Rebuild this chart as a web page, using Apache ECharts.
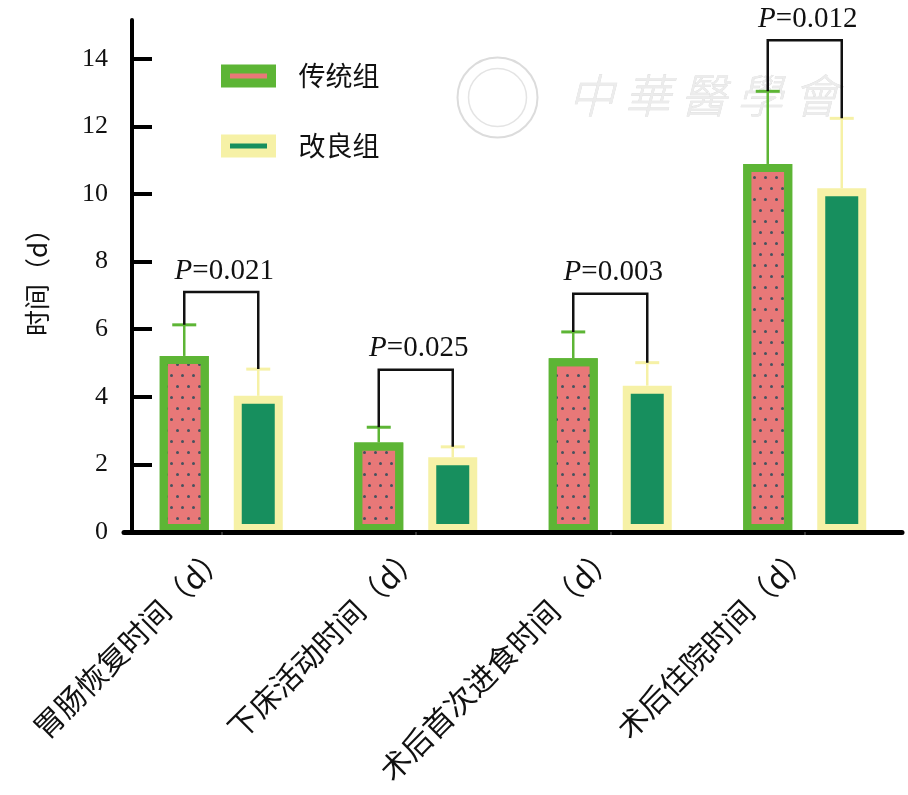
<!DOCTYPE html>
<html><head><meta charset="utf-8">
<script src="https://cdn.jsdelivr.net/npm/echarts@6/dist/echarts.min.js"></script>
<style>html,body{margin:0;padding:0;background:#fff}#c{width:908px;height:795px}</style>
</head><body><div id="c"></div>
<script>
const categories = ['胃肠恢复时间（d）','下床活动时间（d）','术后首次进食时间（d）','术后住院时间（d）'];
const seriesNames = ['传统组','改良组'];
const traditionalMean = [5.21, 2.65, 5.14, 10.89];
const traditionalSD   = [0.92, 0.45, 0.78, 2.15];
const improvedMean    = [4.03, 2.21, 4.33, 10.17];
const improvedSD      = [0.79, 0.31, 0.68, 2.07];
const bracketLevel    = [7.1, 4.8, 7.05, 14.55];
const pValues         = ['0.021','0.025','0.003','0.012'];
const yTicks          = [0, 2, 4, 6, 8, 10, 12, 14];

const GREEN = '#5db535', PINK = '#e87878', YELLOW = '#f6f1a6', DKGREEN = '#178f5e';
const BAR_W = 49, GAP = 25, BORDER = 8;
const OFF = (BAR_W + GAP) / 2;
const serif = 'Liberation Serif, Times New Roman, serif';
const cjk = 'Noto Sans CJK SC, sans-serif';

function errData(mean, sd){ return mean.map((m,i)=>[i, m, sd[i]]); }
function errSeries(name, mean, sd, color, sign){
  return {
    type:'custom', name: name + '_err', z: 5, silent: true,
    data: errData(mean, sd),
    renderItem(params, api){
      const i = api.value(0), m = api.value(1), s = api.value(2);
      const base = api.coord([i, m]);
      const top = api.coord([i, m + s]);
      const x = base[0] + sign * OFF;
      return { type:'group', children:[
        { type:'line', shape:{x1:x, y1:base[1], x2:x, y2:top[1]}, style:{stroke:color, lineWidth:2.5} },
        { type:'line', shape:{x1:x-12, y1:top[1], x2:x+12, y2:top[1]}, style:{stroke:color, lineWidth:3} }
      ]};
    }
  };
}

const bracketData = categories.map((c,i)=>[i, traditionalMean[i]+traditionalSD[i], improvedMean[i]+improvedSD[i], bracketLevel[i]]);

const chart = echarts.init(document.getElementById('c'));
chart.setOption({
  animation:false,
  backgroundColor:'#fff',
  grid:{left:124, right:6, top:20, bottom:263},
  legend:{
    orient:'vertical', left:216, top:56, itemGap:40,
    itemWidth:46, itemHeight:14,
    data:[
      {name:seriesNames[0], icon:'rect', itemStyle:{color:PINK, borderColor:GREEN, borderWidth:9, decal:'none'}},
      {name:seriesNames[1], icon:'rect', itemStyle:{color:DKGREEN, borderColor:YELLOW, borderWidth:9}}
    ],
    textStyle:{fontFamily:cjk, fontSize:27, color:'#111', lineHeight:30, padding:[0,0,0,22]}
  },
  xAxis:{
    type:'category', data:categories, z:10,
    axisLine:{lineStyle:{color:'#000', width:5}},
    axisTick:{show:true, alignWithLabel:true, length:3, lineStyle:{color:'#333', width:2}},
    axisLabel:{rotate:45, interval:0, fontFamily:cjk, fontSize:30, color:'#111', margin:18}
  },
  yAxis:{
    type:'value', min:0, max:15.15, offset:-8, z:10,
    name:'时间（d）', nameLocation:'middle', nameGap:82,
    nameTextStyle:{fontFamily:cjk, fontSize:26, color:'#111'},
    axisLine:{show:true, lineStyle:{color:'#000', width:4}},
    axisTick:{show:true, inside:true, length:20, customValues:yTicks, lineStyle:{color:'#000', width:4}},
    axisLabel:{customValues:yTicks, fontFamily:serif, fontSize:26, color:'#111', margin:24},
    splitLine:{show:false}
  },
  series:[
    {type:'bar', name:seriesNames[0], data:traditionalMean, barWidth:BAR_W, barGap:(GAP/BAR_W*100)+'%',
     itemStyle:{color:PINK, borderColor:GREEN, borderWidth:BORDER,
       decal:{symbol:'circle', symbolSize:1, dashArrayX:[[2.8,7.2],[0,5,2.8,2.2]], dashArrayY:[2.8,7.5], color:'#46525e', rotation:0}}},
    {type:'bar', name:seriesNames[1], data:improvedMean, barWidth:BAR_W,
     itemStyle:{color:DKGREEN, borderColor:YELLOW, borderWidth:BORDER}},
    errSeries(seriesNames[0], traditionalMean, traditionalSD, GREEN, -1),
    errSeries(seriesNames[1], improvedMean, improvedSD, YELLOW, 1),
    {
      type:'custom', name:'sig', z:6, silent:true, data:bracketData,
      renderItem(params, api){
        const i = api.value(0);
        const a = api.coord([i, api.value(1)]), b = api.coord([i, api.value(2)]), c = api.coord([i, api.value(3)]);
        const xl = a[0] - OFF, xr = a[0] + OFF;
        return { type:'group', children:[
          { type:'polyline', shape:{points:[[xl,a[1]],[xl,c[1]],[xr,c[1]],[xr,b[1]]]}, style:{stroke:'#111', lineWidth:2.5, fill:null} },
          { type:'text', x:a[0]+3, y:c[1]-21, style:{
              text:'{i|P}=' + pValues[i], align:'center', verticalAlign:'middle',
              fontFamily:serif, fontSize:29, fill:'#111',
              rich:{i:{fontFamily:serif, fontSize:29, fontStyle:'italic', fill:'#111'}}
          }}
        ]};
      }
    }
  ],
  graphic:[
    {type:'group', left:455, top:55, silent:true, children:[
      {type:'circle', shape:{cx:42, cy:40, r:40}, style:{fill:null, stroke:'#dcdcdc', lineWidth:2}},
      {type:'circle', shape:{cx:42, cy:40, r:29}, style:{fill:null, stroke:'#e4e4e4', lineWidth:1.5}}
    ]},
    {type:'text', left:568, top:72, silent:true, style:{text:'中 華 醫 學 會', fontFamily:cjk, fontSize:46, fontStyle:'italic', fontWeight:300, fill:'#ececec', stroke:'#dadada', lineWidth:0.6}}
  ]
});
</script></body></html>
